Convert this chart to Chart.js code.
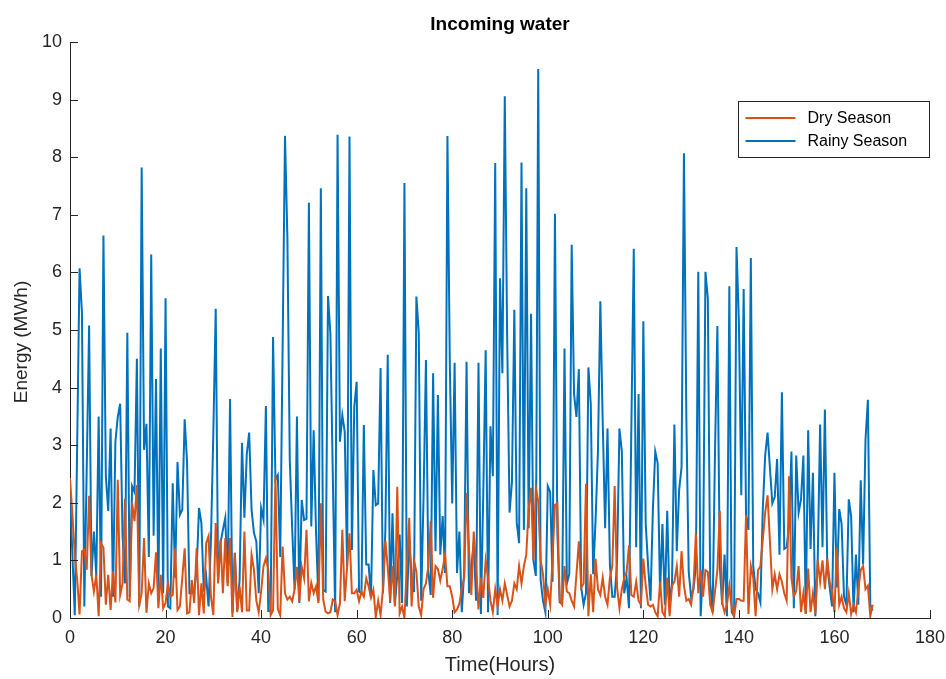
<!DOCTYPE html>
<html>
<head>
<meta charset="utf-8">
<script src="https://cdn.jsdelivr.net/npm/chart.js@4/dist/chart.umd.min.js"></script>
<style>
  html, body { margin: 0; padding: 0; background: #ffffff; }
  #wrap { width: 946px; height: 679px; position: relative; }
</style>
</head>
<body>
<div id="wrap"><canvas id="c" width="946" height="679"></canvas></div>
<script>
// ---- data (hourly energy of incoming water, sampled every half hour, t = 0 .. 168 h) ----
const titleText = 'Incoming water';
const xAxisTitle = 'Time(Hours)';
const yAxisTitle = 'Energy (MWh)';
const seriesNames = ['Dry Season', 'Rainy Season'];
const timeStepHours = 0.5;
const xTickValues = [0, 20, 40, 60, 80, 100, 120, 140, 160, 180];
const yTickValues = [0, 1, 2, 3, 4, 5, 6, 7, 8, 9, 10];

const drySeason = [
  // 0 - 9.5
  2.43, 1.8, 1.1, 0.67, 0.06, 1.16, 1.19, 0.84, 2.12, 0.75, 0.46, 0.75, 0.03, 1.3, 1.22, 0.23, 0.75, 0.14, 0.81, 0.27,
  // 10 - 19.5
  2.4, 0.4, 0.6, 2.07, 0.32, 0.29, 2.0, 1.68, 2.31, 0.23, 0.43, 1.39, 0.09, 0.6, 0.43, 0.52, 1.14, 0.17, 0.75, 0.17,
  // 20 - 29.5
  0.26, 0.6, 0.37, 0.4, 1.21, 0.14, 0.2, 0.7, 1.21, 0.08, 0.1, 0.66, 0.26, 1.21, 0.05, 0.6, 0.08, 1.3, 1.42, 0.37,
  // 30 - 39.5
  0.05, 1.65, 0.6, 1.36, 0.43, 1.39, 0.55, 1.39, 0.02, 1.13, 0.1, 0.55, 0.1, 1.5, 0.13, 0.13, 1.1, 0.84, 0.3, 0.1,
  // 40 - 49.5
  0.46, 0.9, 1.04, 0.84, 0.05, 0.13, 2.48, 0.15, 0.05, 1.24, 0.43, 0.32, 0.37, 0.29, 0.49, 0.89, 0.29, 0.89, 0.69, 1.53,
  // 50 - 59.5
  0.29, 0.61, 0.43, 0.55, 0.26, 1.99, 0.32, 0.11, 0.08, 0.1, 0.32, 0.29, 0.05, 0.26, 1.53, 0.29, 0.89, 1.47, 0.43, 0.43,
  // 60 - 69.5
  0.49, 0.29, 0.46, 0.37, 0.69, 0.55, 0.35, 0.49, 0.02, 0.3, 0.05, 0.5, 1.35, 0.89, 0.29, 0.9, 0.2, 2.28, 0.08, 0.2,
  // 70 - 79.5
  0.0, 0.9, 1.74, 0.2, 1.0, 0.8, 0.2, 0.05, 0.5, 0.6, 0.9, 1.68, 0.35, 0.9, 0.85, 0.65, 0.85, 1.1, 0.55, 0.55,
  // 80 - 89.5
  0.37, 0.1, 0.15, 0.25, 0.5, 0.7, 2.17, 1.2, 0.4, 1.5, 0.9, 0.15, 0.7, 0.35, 1.0, 0.7, 0.3, 0.1, 0.5, 0.2,
  // 90 - 99.5
  0.5, 0.3, 0.6, 0.4, 0.2, 0.3, 0.6, 0.5, 0.9, 0.6, 0.9, 1.1, 1.9, 2.26, 1.0, 2.26, 2.03, 1.0, 0.76, 0.23,
  // 100 - 109.5
  0.5, 0.23, 1.03, 1.96, 1.99, 0.3, 0.23, 0.9, 0.46, 0.43, 0.3, 0.2, 0.76, 1.33, 0.53, 0.6, 2.33, 0.03, 0.76, 0.1,
  // 110 - 119.5
  1.03, 0.5, 0.4, 0.7, 0.37, 0.23, 0.7, 0.9, 2.29, 0.53, 0.17, 0.5, 0.7, 0.8, 1.26, 0.4, 0.37, 0.63, 0.3, 0.23,
  // 120 - 129.5
  1.03, 0.56, 0.23, 0.2, 0.23, 0.1, 0.03, 0.63, 0.1, 0.03, 0.7, 0.03, 0.56, 0.63, 0.9, 0.37, 1.16, 0.56, 0.3, 0.33,
  // 130 - 139.5
  0.23, 0.56, 1.46, 0.43, 0.83, 0.37, 0.83, 0.8, 0.23, 0.1, 0.46, 0.83, 1.86, 0.27, 0.1, 0.23, 0.56, 0.17, 0.03, 0.33,
  // 140 - 149.5
  0.33, 0.3, 0.3, 1.79, 0.07, 0.9, 0.7, 0.03, 0.83, 0.9, 1.36, 1.83, 2.13, 1.33, 0.5, 0.76, 0.5, 0.76, 0.63, 0.43,
  // 150 - 159.5
  0.3, 2.46, 0.7, 0.37, 0.47, 0.9, 0.1, 0.43, 0.07, 0.86, 0.1, 0.43, 0.07, 1.0, 0.63, 1.0, 0.5, 1.03, 0.63, 0.47,
  // 160 - 168
  0.1, 1.23, 0.23, 0.37, 0.17, 0.1, 0.43, 0.07, 0.23, 0.1, 0.5, 0.83, 0.9, 0.5, 0.56, 0.03, 0.23
];

const rainySeason = [
  // 0 - 9.5
  2.2, 1.1, 0.05, 3.0, 6.07, 5.3, 0.2, 2.6, 5.08, 0.73, 1.5, 0.73, 3.5, 0.37, 6.64, 2.46, 1.86, 3.29, 0.37, 3.06,
  // 10 - 19.5
  3.49, 3.72, 1.43, 0.6, 4.95, 0.37, 2.29, 2.19, 4.5, 0.2, 7.82, 2.92, 3.37, 1.06, 6.31, 1.43, 4.15, 0.4, 4.68, 0.43,
  // 20 - 29.5
  5.55, 0.2, 0.17, 2.34, 0.7, 2.71, 1.79, 1.88, 3.45, 2.71, 0.43, 0.43, 0.5, 0.83, 1.91, 1.65, 0.46, 0.72, 0.2, 1.36,
  // 30 - 39.5
  3.22, 5.37, 0.66, 1.3, 1.53, 1.74, 0.61, 3.8, 0.09, 1.13, 0.12, 0.66, 3.04, 1.74, 2.84, 3.22, 1.88, 1.48, 1.33, 0.43,
  // 40 - 49.5
  1.91, 1.71, 3.68, 0.12, 0.12, 4.88, 2.4, 2.48, 1.06, 4.7, 8.37, 6.6, 2.74, 1.56, 0.5, 3.5, 0.26, 2.05, 1.7, 1.72,
  // 50 - 59.5
  7.21, 1.59, 3.26, 1.47, 0.3, 7.46, 0.49, 0.46, 5.59, 4.94, 2.5, 0.1, 8.39, 3.06, 3.52, 3.23, 0.88, 8.36, 1.18, 3.67,
  // 60 - 69.5
  4.1, 0.46, 0.43, 3.35, 0.93, 0.93, 0.35, 2.57, 1.96, 1.99, 4.34, 0.43, 1.5, 4.57, 0.26, 1.82, 0.23, 0.75, 1.45, 0.26,
  // 70 - 79.5
  7.55, 0.2, 1.39, 0.72, 0.45, 5.58, 4.94, 0.3, 2.1, 4.48, 0.81, 0.4, 4.25, 1.16, 3.87, 1.1, 1.77, 0.78, 8.37, 4.39,
  // 80 - 89.5
  1.99, 4.43, 0.78, 1.5, 0.1, 0.8, 4.45, 0.43, 0.9, 1.3, 0.3, 4.43, 0.07, 2.16, 4.65, 0.1, 3.33, 2.46, 7.9, 0.05,
  // 90 - 99.5
  5.9, 4.25, 9.06, 4.88, 1.83, 2.36, 5.35, 1.66, 1.3, 7.91, 1.53, 7.46, 1.56, 5.28, 1.0, 0.73, 9.53, 0.66, 0.3, 0.1,
  // 100 - 109.5
  2.29, 2.19, 0.63, 7.02, 1.5, 0.27, 0.25, 4.68, 0.6, 0.76, 6.48, 3.89, 3.49, 4.32, 0.53, 0.23, 0.43, 4.35, 3.72, 0.76,
  // 110 - 119.5
  1.69, 2.89, 5.5, 3.4, 1.56, 3.29, 0.93, 0.37, 0.37, 0.96, 3.29, 2.89, 0.43, 0.7, 0.17, 3.36, 6.41, 1.23, 3.89, 0.17,
  // 120 - 129.5
  5.15, 1.63, 0.9, 0.3, 1.89, 2.89, 2.69, 0.43, 1.63, 0.23, 1.86, 0.23, 0.6, 3.36, 1.16, 2.23, 2.62, 8.07, 3.5, 0.8,
  // 130 - 139.5
  0.37, 0.5, 0.9, 6.01, 0.03, 0.9, 6.01, 5.55, 0.6, 0.1, 2.89, 5.07, 0.9, 0.23, 1.1, 0.03, 5.76, 0.1, 0.03, 6.44,
  // 140 - 149.5
  5.15, 2.13, 5.71, 1.76, 1.53, 6.25, 0.9, 0.5, 0.43, 0.27, 1.89, 2.82, 3.22, 2.6, 1.99, 2.1, 2.76, 1.1, 3.92, 1.2,
  // 150 - 159.5
  1.23, 1.6, 2.89, 0.17, 2.82, 1.83, 2.06, 2.82, 0.07, 3.26, 1.2, 2.52, 0.03, 1.0, 3.36, 1.23, 3.62, 0.9, 0.53, 0.2,
  // 160 - 168
  2.52, 0.53, 1.89, 1.63, 0.37, 0.23, 2.06, 1.76, 0.1, 1.1, 0.23, 2.39, 0.93, 3.1, 3.79, 0.23, 0.13
];

// sampling grid (hours)
const hours = drySeason.map((_, i) => i * timeStepHours);

// ---- styling ----
const COLORS = { dry: '#D95319', rainy: '#0072BD', axis: '#262626' };
const FONT = '"Liberation Sans", Arial, Helvetica, sans-serif';

const toPoints = vals => vals.map((v, i) => ({ x: hours[i], y: v }));

const overlayPlugin = {
  id: 'overlay',
  afterDraw(chart) {
    const { ctx, chartArea: a, scales: { x, y } } = chart;
    ctx.save();
    // inward tick marks (MATLAB style)
    ctx.strokeStyle = COLORS.axis;
    ctx.lineWidth = 1;
    const tl = 8;
    xTickValues.forEach(v => {
      const px = Math.round(x.getPixelForValue(v)) + 0.5;
      ctx.beginPath(); ctx.moveTo(px, a.bottom); ctx.lineTo(px, a.bottom - tl); ctx.stroke();
    });
    yTickValues.forEach(v => {
      const py = Math.round(y.getPixelForValue(v)) + 0.5;
      ctx.beginPath(); ctx.moveTo(a.left, py); ctx.lineTo(a.left + tl, py); ctx.stroke();
    });
    // title centred over the plot area
    ctx.fillStyle = '#000000';
    ctx.font = 'bold 19px ' + FONT;
    ctx.textAlign = 'center';
    ctx.textBaseline = 'middle';
    ctx.fillText(titleText, (a.left + a.right) / 2, 25);
    // axis titles
    ctx.fillStyle = COLORS.axis;
    ctx.font = '20px ' + FONT;
    ctx.fillText(xAxisTitle, (a.left + a.right) / 2, 665);
    ctx.save();
    ctx.translate(22, 342);
    ctx.rotate(-Math.PI / 2);
    ctx.font = '19px ' + FONT;
    ctx.fillText(yAxisTitle, 0, 0);
    ctx.restore();
    // legend box (top right, inside plot area)
    const bx = 738.5, by = 101.5, bw = 191, bh = 56;
    ctx.fillStyle = '#ffffff';
    ctx.fillRect(bx, by, bw, bh);
    ctx.strokeStyle = COLORS.axis;
    ctx.lineWidth = 1;
    ctx.strokeRect(bx, by, bw, bh);
    ctx.font = '16px ' + FONT;
    ctx.textAlign = 'left';
    ctx.textBaseline = 'middle';
    chart.data.datasets.forEach((ds, i) => {
      const ly = by + 16.5 + i * 23;
      ctx.strokeStyle = ds.borderColor;
      ctx.lineWidth = 2;
      ctx.beginPath(); ctx.moveTo(bx + 7, ly); ctx.lineTo(bx + 57, ly); ctx.stroke();
      ctx.fillStyle = '#000000';
      ctx.fillText(ds.label, bx + 69, ly + 1);
    });
    ctx.restore();
  }
};

new Chart(document.getElementById('c'), {
  type: 'line',
  data: {
    datasets: [
      { label: seriesNames[0], data: toPoints(drySeason), borderColor: COLORS.dry, backgroundColor: COLORS.dry,
        borderWidth: 2, pointRadius: 0, tension: 0, fill: false },
      { label: seriesNames[1], data: toPoints(rainySeason), borderColor: COLORS.rainy, backgroundColor: COLORS.rainy,
        borderWidth: 2, pointRadius: 0, tension: 0, fill: false }
    ]
  },
  options: {
    responsive: false,
    animation: false,
    devicePixelRatio: 1,
    layout: { padding: { top: 42, right: 0, left: 0, bottom: 0 } },
    plugins: {
      legend: { display: false },
      title: { display: false },
      tooltip: { enabled: false }
    },
    scales: {
      x: {
        type: 'linear', min: 0, max: 180,
        afterFit: s => { s.height = 61; s.paddingRight = 16; s.paddingLeft = 0; },
        afterBuildTicks: s => { s.ticks = xTickValues.map(v => ({ value: v })); },
        grid: { display: true, drawOnChartArea: false, drawTicks: false },
        border: { display: true, color: COLORS.axis, width: 1 },
        ticks: { color: COLORS.axis, font: { family: FONT, size: 18 }, padding: 9, maxRotation: 0 },
        title: { display: false }
      },
      y: {
        type: 'linear', min: 0, max: 10,
        afterFit: s => { s.width = 70; s.paddingTop = 0; s.paddingBottom = 0; },
        afterBuildTicks: s => { s.ticks = yTickValues.map(v => ({ value: v })); },
        grid: { display: true, drawOnChartArea: false, drawTicks: false },
        border: { display: true, color: COLORS.axis, width: 1 },
        ticks: { color: COLORS.axis, font: { family: FONT, size: 18 }, padding: 8 },
        title: { display: false }
      }
    }
  },
  plugins: [overlayPlugin]
});
</script>
</body>
</html>
